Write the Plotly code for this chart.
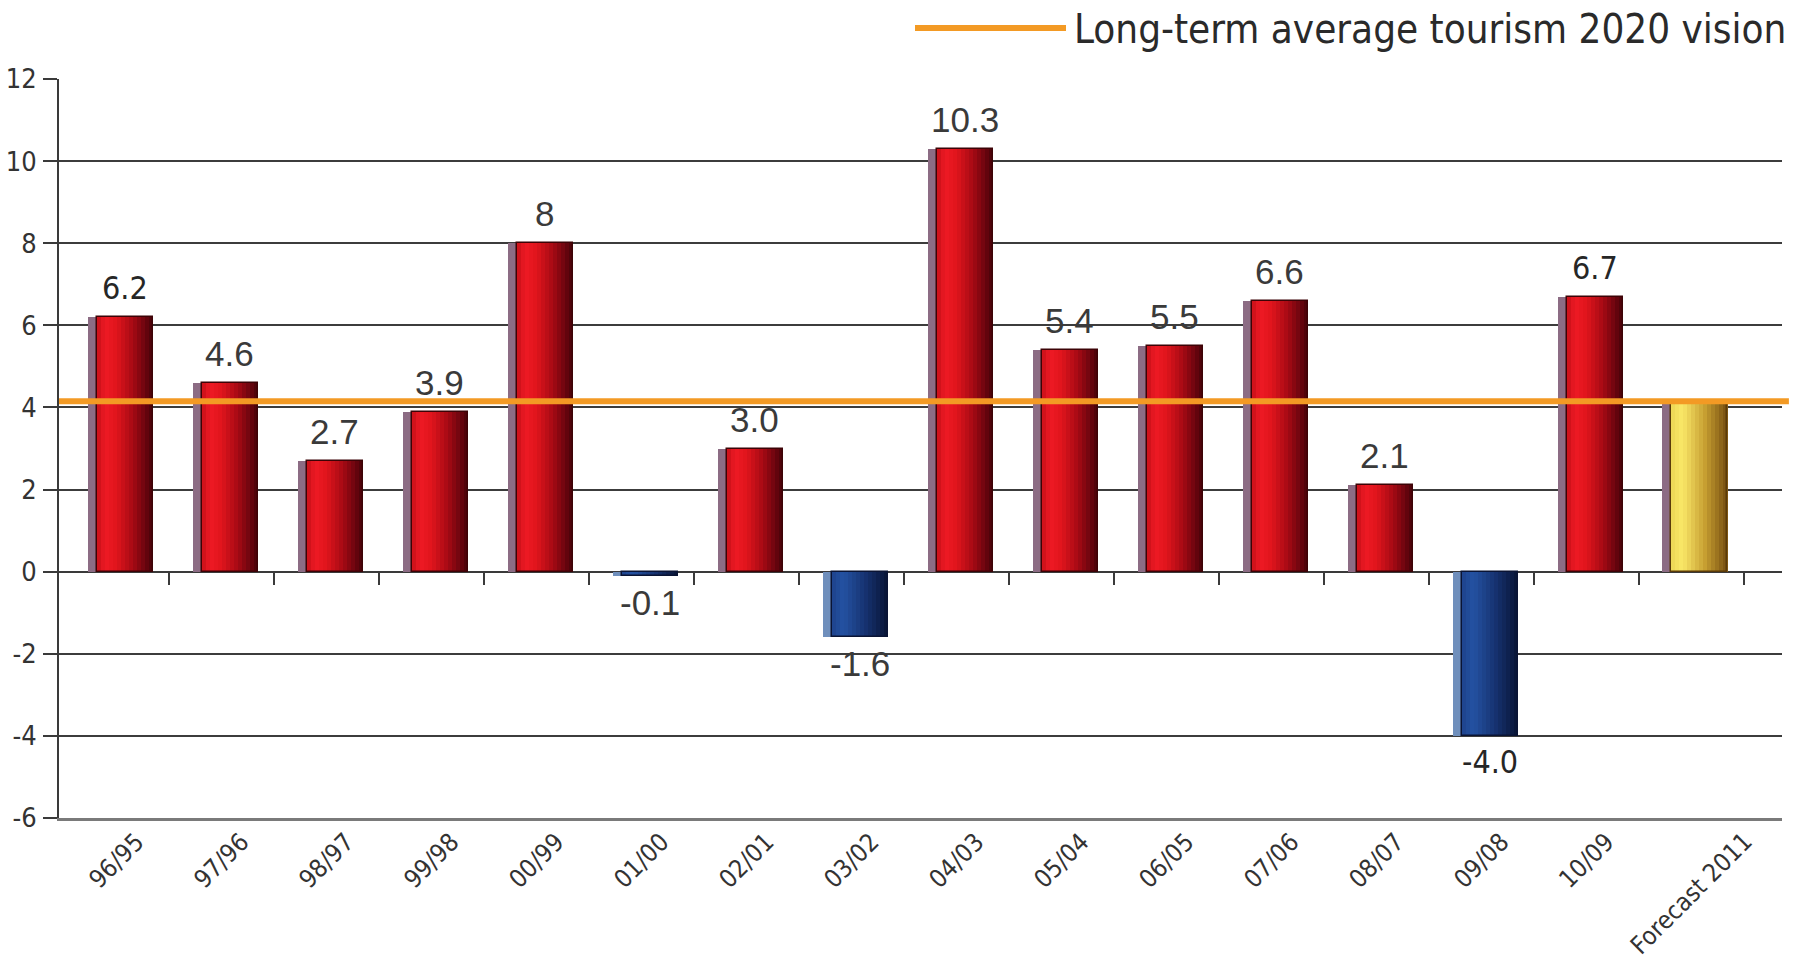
import plotly.graph_objects as go

# Year-on-year growth of international tourist arrivals (%)
periods = ["96/95", "97/96", "98/97", "99/98", "00/99", "01/00", "02/01", "03/02",
           "04/03", "05/04", "06/05", "07/06", "08/07", "09/08", "10/09", "Forecast 2011"]
growth = [6.2, 4.6, 2.7, 3.9, 8, -0.1, 3.0, -1.6, 10.3, 5.4, 5.5, 6.6, 2.1, -4.0, 6.7, 4.1]
value_labels = ["6.2", "4.6", "2.7", "3.9", "8", "-0.1", "3.0", "-1.6", "10.3", "5.4",
                "5.5", "6.6", "2.1", "-4.0", "6.7", ""]
long_term_avg = 4.15
legend_text = "Long-term average tourism 2020 vision"
y_ticks = [-6, -4, -2, 0, 2, 4, 6, 8, 10, 12]
y_tick_text = ["-6", "-4", "-2", "0", "2", "4", "6", "8", "10", "12"]

W, H = 1804, 970
M_L, M_R, M_T, M_B = 59, 22, 79, 152
plot_w = W - M_L - M_R
plot_h = H - M_T - M_B
x_range = [-0.548, 15.862]
px_per_unit = plot_w / (x_range[1] - x_range[0])

NARROW = "Liberation Sans Narrow, DejaVu Sans Condensed, Arial Narrow, sans-serif"
ARIAL = "Liberation Sans, Arial, sans-serif"

xs = list(range(len(periods)))


def kind(i, v):
    if i == len(periods) - 1:
        return "forecast"
    return "neg" if v < 0 else "pos"


kinds = [kind(i, v) for i, v in enumerate(growth)]

# horizontal colour ramps imitating cylindrical shading
ramps = {
    "pos": [(0.0, (200, 16, 24)), (0.15, (238, 26, 36)), (0.35, (224, 20, 28)),
            (0.65, (164, 10, 20)), (0.88, (102, 4, 14)), (1.0, (72, 2, 8))],
    "neg": [(0.0, (30, 66, 140)), (0.2, (36, 82, 162)), (0.6, (22, 50, 112)),
            (1.0, (8, 20, 52))],
    "forecast": [(0.0, (236, 214, 84)), (0.2, (250, 232, 104)), (0.6, (200, 160, 50)),
                 (1.0, (120, 80, 16))],
}
shadow_col = {"pos": "#8c6c84", "neg": "#6f8fbc", "forecast": "#8c6c84"}
edge_col = {"pos": "#3c0306", "neg": "#0a1434", "forecast": "#5a3a08"}


def ramp_color(name, t):
    stops = ramps[name]
    for (t0, c0), (t1, c1) in zip(stops[:-1], stops[1:]):
        if t0 <= t <= t1:
            f = (t - t0) / (t1 - t0) if t1 > t0 else 0
            c = [round(a + (b - a) * f) for a, b in zip(c0, c1)]
            return f"rgb({c[0]},{c[1]},{c[2]})"
    c = stops[-1][1]
    return f"rgb({c[0]},{c[1]},{c[2]})"


bar_w = 56 / px_per_unit
bar_off = -20 / px_per_unit
shadow_off = -29 / px_per_unit

fig = go.Figure()

# offset shadow behind each bar
fig.add_trace(go.Bar(
    x=xs, y=growth, offset=shadow_off, width=bar_w,
    marker=dict(color=[shadow_col[k] for k in kinds], line=dict(width=0)),
    hoverinfo="skip", showlegend=False))

# shaded bar body built from thin vertical slices
n_slices = 14
slice_w = bar_w / n_slices
for s in range(n_slices):
    t = (s + 0.5) / n_slices
    fig.add_trace(go.Bar(
        x=xs, y=growth, offset=bar_off + s * slice_w, width=slice_w * 1.15,
        marker=dict(color=[ramp_color(k, t) for k in kinds], line=dict(width=0)),
        hoverinfo="skip", showlegend=False))

# thin dark outline round each bar
fig.add_trace(go.Bar(
    x=xs, y=growth, offset=bar_off, width=bar_w,
    marker=dict(color="rgba(0,0,0,0)", line=dict(color=[edge_col[k] for k in kinds], width=1.5)),
    xaxis="x2", hoverinfo="skip", showlegend=False))

# value labels above / below the bars
for i, (v, lab) in enumerate(zip(growth, value_labels)):
    if not lab:
        continue
    special = lab in ("6.2", "6.7", "-4.0")
    fig.add_annotation(
        x=i + bar_off + bar_w / 2, y=v, xref="x", yref="y", showarrow=False,
        text=lab, yanchor="bottom" if v >= 0 else "top",
        yshift=8 if v >= 0 else -5,
        font=dict(family=NARROW if special else ARIAL, size=32 if special else 35,
                  color="#262626" if special else "#3a3a3a"))


def px_x(p):
    return (p - M_L) / plot_w


def px_y(p):
    return (H - M_B - p) / plot_h


# category labels, rotated about their centres under each bar
for i, name in enumerate(periods):
    fig.add_annotation(
        x=i, y=px_y(826), xref="x", yref="paper", showarrow=False,
        text=name, textangle=-45, xanchor="center", yanchor="top",
        borderpad=0,
        font=dict(family=NARROW, size=25, color="#333333"))

# long-term average reference line
fig.add_shape(type="line", xref="paper", yref="y", x0=0, x1=1.004,
              y0=long_term_avg, y1=long_term_avg,
              line=dict(color="#f39a24", width=6), layer="above")

# legend drawn by hand: long swatch + text
fig.add_shape(type="line", xref="paper", yref="paper",
              x0=px_x(915), x1=px_x(1066), y0=px_y(28), y1=px_y(28),
              line=dict(color="#f39a24", width=6))
fig.add_annotation(xref="paper", yref="paper", x=px_x(1072), y=px_y(29),
                   xanchor="left", yanchor="middle", showarrow=False,
                   text=legend_text,
                   font=dict(family=NARROW, size=40, color="#2a2a2a"))

fig.update_layout(
    width=W, height=H,
    margin=dict(l=M_L, r=M_R, t=M_T, b=M_B),
    paper_bgcolor="white", plot_bgcolor="white",
    barmode="overlay", bargap=0,
    showlegend=False,
    xaxis=dict(range=x_range, tickmode="array", tickvals=xs, showticklabels=False,
               showgrid=False, zeroline=False, showline=True, linecolor="#7a7a7a",
               linewidth=3, ticks="", automargin=False),
    xaxis2=dict(range=x_range, overlaying="x", anchor="free", position=6 / 18,
                tickmode="array", tickvals=[i + 0.5 for i in xs],
                ticks="outside", ticklen=12, tickwidth=2, tickcolor="#3a3a3a",
                showticklabels=False, showgrid=False, zeroline=False, showline=False),
    yaxis=dict(range=[-6, 12], tickmode="array", tickvals=y_ticks, ticktext=y_tick_text,
               tickfont=dict(family=NARROW, size=27, color="#333333"),
               showgrid=True, gridcolor="#3c3c3c", gridwidth=2,
               zeroline=True, zerolinecolor="#3a3a3a", zerolinewidth=2,
               showline=True, linecolor="#3a3a3a", linewidth=2,
               ticks="outside", ticklen=14, tickwidth=2, tickcolor="#3a3a3a",
               ticklabelstandoff=1, automargin=False),
)

fig.write_html("out.html")
